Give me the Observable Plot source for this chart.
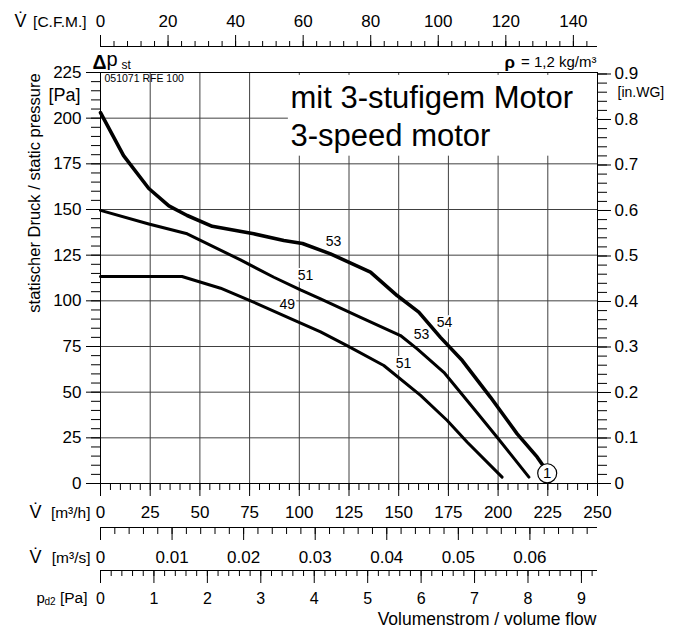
<!DOCTYPE html>
<html>
<head>
<meta charset="utf-8">
<script src="https://cdn.jsdelivr.net/npm/d3@7"></script>
<script src="https://cdn.jsdelivr.net/npm/@observablehq/plot@0.6"></script>
<style>
  html, body { margin: 0; padding: 0; background: #fff; }
  #chart { width: 684px; height: 628px; }
</style>
</head>
<body>
<div id="chart"></div>
<script>
// ---------- data (volume flow in m³/h, static pressure in Pa) ----------
const highFlow     = [0, 11.6, 24.3, 34.4, 43.6, 56.2, 77.1, 92.2, 101.6, 115.7, 135.8, 149.2, 160.1, 171, 182, 196.2, 209.6, 219.7, 222.5];
const highPressure = [203, 179.5, 161.5, 152, 146.7, 140.8, 136.7, 133, 131.4, 125.7, 115.7, 102.9, 93.8, 80, 67.3, 47.2, 27.2, 14.4, 10];

const midFlow      = [0, 24.3, 43.6, 70.4, 87.2, 100.6, 110.7, 130.8, 150.9, 159.3, 172.7, 187.8, 199.5, 215.5];
const midPressure  = [149.5, 142.1, 136.7, 122.4, 112.9, 106, 101.1, 91, 81, 73.7, 60.9, 40.9, 25.3, 3.5];

const lowFlow      = [0, 41, 60.4, 75.5, 95.6, 110.7, 124, 142.5, 161, 174.4, 184.5, 202];
const lowPressure  = [113.3, 113.3, 106.9, 100, 90.3, 83, 75.5, 64.6, 48.2, 34.5, 22.6, 3.5];

// noise labels on the curves
const labelText  = ["53", "54", "51", "53", "49", "51"];
const labelFlow  = [117.2, 173, 103.1, 161.5, 93.9, 152.4];
const labelPress = [132.7, 88.1, 113.7, 81.6, 98.1, 65.8];

// operating point marker
const markerText = ["1"];
const markerFlow = [224.7];
const markerPress = [5.6];

// annotation box behind the title text
const noteBox = [{q1: 94.5, q2: 249.6, p1: 179.2, p2: 223.4}];

// ---------- tick values ----------
const flowMajor  = [0, 25, 50, 75, 100, 125, 150, 175, 200, 225, 250];
const flowMinor  = d3.range(0, 251, 5);
const flowGrid   = [25, 50, 75, 100, 125, 150, 175, 200, 225];
const paMajor    = [0, 25, 50, 75, 100, 125, 150, 175, 200, 225];
const paMinor    = d3.range(0, 226, 5);
const paGrid     = [25, 50, 75, 100, 125, 150, 175, 200];
const cfmMajor   = [0, 20, 40, 60, 80, 100, 120, 140];
const cfmMinor   = d3.range(0, 145, 4);
const m3sMajor   = [0, 0.01, 0.02, 0.03, 0.04, 0.05, 0.06];
const m3sMinor   = d3.range(0, 35).map(i => i * 0.002);
const pd2Major   = [0, 1, 2, 3, 4, 5, 6, 7, 8, 9];
const pd2Minor   = d3.range(0, 47).map(i => i * 0.2);
const inwgMajor  = [0, 0.1, 0.2, 0.3, 0.4, 0.5, 0.6, 0.7, 0.8, 0.9];
const inwgMinor  = d3.range(0, 46).map(i => i * 0.02);

// unit conversions onto the m³/h and Pa scales
const M3H_PER_CFM = 1.69901;
const M3H_PER_M3S = 3600;
const M3H_PER_PD2 = 26.88;   // dynamic-pressure scale as printed (linear)
const PA_PER_INWG = 249.089;

const toRows = (qs, ps) => qs.map((q, i) => ({q, p: ps[i]}));
const high = toRows(highFlow, highPressure);
const mid  = toRows(midFlow, midPressure);
const low  = toRows(lowFlow, lowPressure);
const curveLabels = labelText.map((t, i) => ({t, q: labelFlow[i], p: labelPress[i]}));
const marker = markerText.map((t, i) => ({t, q: markerFlow[i], p: markerPress[i]}));

const FONT = "'Liberation Sans', Arial, Helvetica, sans-serif";
const GRID = "#404040";
const TICK_FS = 17;
const blank = () => "";
const label = (s, o) => Plot.text([s], {lineAnchor: "bottom", fill: "black", ...o});

const chart = Plot.plot({
  width: 684,
  height: 628,
  marginLeft: 100,
  marginRight: 87,
  marginTop: 72,
  marginBottom: 145,
  x: {domain: [0, 250], label: null},
  y: {domain: [0, 225], label: null},
  style: {fontFamily: FONT, fontSize: "17px", background: "white", color: "black", overflow: "visible"},
  marks: [
    // grid
    Plot.ruleX(flowGrid, {stroke: GRID, strokeWidth: 1}),
    Plot.ruleY(paGrid, {stroke: GRID, strokeWidth: 1}),
    Plot.rect(noteBox, {x1: "q1", x2: "q2", y1: "p1", y2: "p2", fill: "white"}),
    // frame
    Plot.ruleX([0, 250], {stroke: "black", strokeWidth: 1}),
    Plot.ruleY([0, 225], {stroke: "black", strokeWidth: 1}),

    // left Pa axis
    Plot.axisY(paMajor, {anchor: "left", tickSize: 14, tickPadding: 5, fontSize: TICK_FS, label: null}),
    Plot.axisY(paMinor, {anchor: "left", tickSize: 9, tickFormat: blank, label: null}),
    // right in.WG axis
    Plot.axisY(inwgMajor.map(w => w * PA_PER_INWG), {anchor: "right", tickSize: 13, tickPadding: 4, fontSize: TICK_FS, label: null,
      tickFormat: d => { const w = d / PA_PER_INWG; return Math.abs(w) < 1e-9 ? "0" : w.toFixed(1); }}),
    Plot.axisY(inwgMinor.map(w => w * PA_PER_INWG), {anchor: "right", tickSize: 9, tickFormat: blank, label: null}),

    // bottom m³/h axis
    Plot.axisX(flowMajor, {anchor: "bottom", tickSize: 13, tickPadding: 9, fontSize: TICK_FS, label: null}),
    Plot.axisX(flowMinor, {anchor: "bottom", tickSize: 7, tickFormat: blank, label: null}),

    // top CFM axis
    Plot.ruleY([225], {x1: 0, x2: 250, dy: -26, stroke: "black"}),
    Plot.axisX(cfmMajor.map(c => c * M3H_PER_CFM), {anchor: "top", dy: -26, tickSize: 12, tickPadding: 8, fontSize: TICK_FS, label: null,
      tickFormat: d => String(Math.round(d / M3H_PER_CFM))}),
    Plot.axisX(cfmMinor.map(c => c * M3H_PER_CFM), {anchor: "top", dy: -26, tickSize: 6, tickFormat: blank, label: null}),

    // m³/s axis
    Plot.ruleY([0], {x1: 0, x2: 250, dy: 44, stroke: "black"}),
    Plot.axisX(m3sMajor.map(v => v * M3H_PER_M3S), {anchor: "bottom", dy: 44, tickSize: 13, tickPadding: 10, fontSize: TICK_FS, label: null,
      tickFormat: d => { const v = d / M3H_PER_M3S; return v < 1e-9 ? "0" : v.toFixed(2); }}),
    Plot.axisX(m3sMinor.map(v => v * M3H_PER_M3S), {anchor: "bottom", dy: 44, tickSize: 7, tickFormat: blank, label: null}),

    // p_d2 axis
    Plot.ruleY([0], {x1: 0, x2: 250, dy: 87, stroke: "black"}),
    Plot.axisX(pd2Major.map(v => v * M3H_PER_PD2), {anchor: "bottom", dy: 87, tickSize: 13, tickPadding: 9, fontSize: 16, label: null,
      tickFormat: d => String(Math.round(d / M3H_PER_PD2))}),
    Plot.axisX(pd2Minor.map(v => v * M3H_PER_PD2), {anchor: "bottom", dy: 87, tickSize: 6, tickFormat: blank, label: null}),

    // curves
    Plot.line(low,  {x: "q", y: "p", stroke: "black", strokeWidth: 3, strokeLinejoin: "round"}),
    Plot.line(mid,  {x: "q", y: "p", stroke: "black", strokeWidth: 3, strokeLinejoin: "round"}),
    Plot.line(high, {x: "q", y: "p", stroke: "black", strokeWidth: 3.6, strokeLinejoin: "round"}),
    Plot.text(curveLabels, {x: "q", y: "p", text: "t", fontSize: 14, fill: "black", stroke: "white", strokeWidth: 4}),
    Plot.dot(marker, {x: "q", y: "p", r: 9.5, fill: "white", stroke: "black", strokeWidth: 1.2}),
    Plot.text(marker, {x: "q", y: "p", text: "t", fontSize: 15, fill: "black"}),

    // annotation texts
    label("mit 3-stufigem Motor", {frameAnchor: "top-left", dx: 190, dy: 35, textAnchor: "start", fontSize: 31}),
    label("3-speed motor", {frameAnchor: "top-left", dx: 190, dy: 73, textAnchor: "start", fontSize: 31}),
    label("Δ", {frameAnchor: "top-left", dx: -8, dy: -4, textAnchor: "start", fontSize: 19.5, fontWeight: "bold"}),
    label("p", {frameAnchor: "top-left", dx: 6, dy: -7, textAnchor: "start", fontSize: 20}),
    label("st", {frameAnchor: "top-left", dx: 21, dy: -4, textAnchor: "start", fontSize: 12}),
    label("051071 RFE 100", {frameAnchor: "top-left", dx: 4, dy: 9, textAnchor: "start", fontSize: 10.5}),
    label("ρ", {frameAnchor: "top-right", dx: -93, dy: -5, textAnchor: "start", fontSize: 17, fontWeight: "bold"}),
    label("= 1,2 kg/m³", {frameAnchor: "top-right", dx: -1, dy: -5.5, textAnchor: "end", fontSize: 15}),
    label("[Pa]", {frameAnchor: "top-left", dx: -20, dy: 28, textAnchor: "end", fontSize: 18}),
    label("statischer Druck / static pressure", {frameAnchor: "left", rotate: -90, dx: -60.5, dy: -85, textAnchor: "middle", fontSize: 16.5}),
    label("[in.WG]", {frameAnchor: "top-right", dx: 20, dy: 24, textAnchor: "start", fontSize: 14}),
    label("V\u0307", {frameAnchor: "top-left", dx: -86, dy: -46, textAnchor: "start", fontSize: 18}),
    label("[C.F.M.]", {frameAnchor: "top-left", dx: -14, dy: -46, textAnchor: "end", fontSize: 15.5}),
    label("V\u0307", {frameAnchor: "bottom-left", dx: -71, dy: 34, textAnchor: "start", fontSize: 18}),
    label("[m³/h]", {frameAnchor: "bottom-left", dx: -10, dy: 34, textAnchor: "end", fontSize: 15.5}),
    label("V\u0307", {frameAnchor: "bottom-left", dx: -71, dy: 79, textAnchor: "start", fontSize: 18}),
    label("[m³/s]", {frameAnchor: "bottom-left", dx: -10, dy: 79, textAnchor: "end", fontSize: 15.5}),
    label("p", {frameAnchor: "bottom-left", dx: -64, dy: 119, textAnchor: "start", fontSize: 15}),
    label("d2", {frameAnchor: "bottom-left", dx: -56, dy: 121, textAnchor: "start", fontSize: 10}),
    label("[Pa]", {frameAnchor: "bottom-left", dx: -13, dy: 119, textAnchor: "end", fontSize: 15.5}),
    label("Volumenstrom / volume flow", {frameAnchor: "bottom-right", dx: -1, dy: 141, textAnchor: "end", fontSize: 17.5})
  ]
});
document.getElementById("chart").appendChild(chart);
</script>
</body>
</html>
